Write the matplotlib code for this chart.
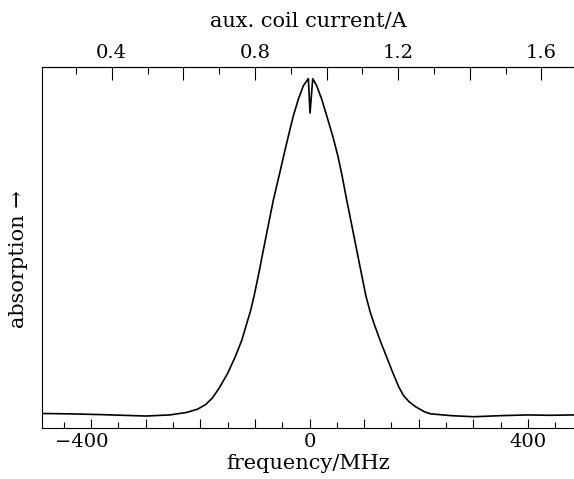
import matplotlib
matplotlib.use("Agg")
import matplotlib.pyplot as plt
from matplotlib.ticker import MultipleLocator, FuncFormatter

# traced absorption curve (frequency in MHz, absorption in arbitrary units)
freq = [-490, -440, -384, -300, -256, -225, -205, -190, -178, -166, -150,
        -136, -124, -115, -108, -101, -93, -84.6, -75.5, -66.3, -54, -46.7,
        -38.8, -29.7, -20.5, -11.4, -2.2, 0.9, 5.9, 13.2, 22.3, 31.5, 42.5,
        51.6, 59, 68.1, 77.3, 86.4, 95, 103, 111, 118, 129, 141, 153, 163,
        172, 182, 194, 210, 222, 260, 301, 350, 399, 440, 484]
absorb = [0.041, 0.040, 0.038, 0.034, 0.037, 0.044, 0.053, 0.066, 0.084, 0.110,
          0.152, 0.198, 0.244, 0.290, 0.325, 0.370, 0.428, 0.493, 0.562, 0.631,
          0.710, 0.758, 0.808, 0.864, 0.910, 0.947, 0.967, 0.872, 0.967, 0.947,
          0.910, 0.864, 0.808, 0.755, 0.703, 0.631, 0.562, 0.493, 0.428, 0.368,
          0.322, 0.290, 0.244, 0.198, 0.152, 0.116, 0.091, 0.074, 0.060, 0.046,
          0.040, 0.035, 0.032, 0.035, 0.037, 0.036, 0.037]

freq_ticks = [-400, -300, -200, -100, 0, 100, 200, 300, 400]
# em space after -400 keeps the digits centred on the tick
freq_labels = ['\u2212400\u2003', '', '', '', '0', '', '', '', '400']
current_labelled = [0.4, 0.8, 1.2, 1.6]

# coil current at 0 MHz and MHz per ampere
I0 = 0.9525
MHZ_PER_A = 655.7

plt.rcParams['font.family'] = ['DejaVu Serif']
plt.rcParams['font.size'] = 14

fig = plt.figure(figsize=(5.74, 4.79), dpi=100)
ax = fig.add_axes([0.0732, 0.1058, 0.9268, 0.755])

ax.plot(freq, absorb, color='black', lw=1.2)
ax.set_xlim(-490, 484.4)
ax.set_ylim(0, 1)

ax.spines['right'].set_visible(False)
for s in ['left', 'top', 'bottom']:
    ax.spines[s].set_linewidth(0.8)

ax.set_yticks([])
ax.set_xticks(freq_ticks)
ax.set_xticklabels(freq_labels)
ax.xaxis.set_minor_locator(MultipleLocator(50))
ax.tick_params(axis='x', which='major', direction='in', length=6.7, width=0.8, pad=3.5)
ax.tick_params(axis='x', which='minor', direction='in', length=4.1, width=0.8)

ax.set_xlabel('frequency/MHz', fontsize=15, labelpad=2)
ax.set_ylabel('absorption \u2192', fontsize=15)
ax.yaxis.set_label_coords(-0.026, 0.468)

sec = ax.secondary_xaxis('top', functions=(lambda f: I0 + f / MHZ_PER_A,
                                           lambda i: (i - I0) * MHZ_PER_A))
sec.xaxis.set_major_locator(MultipleLocator(0.2))
sec.xaxis.set_minor_locator(MultipleLocator(0.1))


def cur_fmt(v, pos):
    for c in current_labelled:
        if abs(v - c) < 1e-6:
            return f"{c:.1f}"
    return ''


sec.xaxis.set_major_formatter(FuncFormatter(cur_fmt))
sec.tick_params(axis='x', which='major', direction='in', length=9, width=0.8, pad=3.5)
sec.tick_params(axis='x', which='minor', direction='in', length=4.8, width=0.8)
sec.spines['top'].set_linewidth(0.8)
sec.set_xlabel('aux. coil current/A', fontsize=15, labelpad=12)

fig.savefig('out.png', dpi=100)
